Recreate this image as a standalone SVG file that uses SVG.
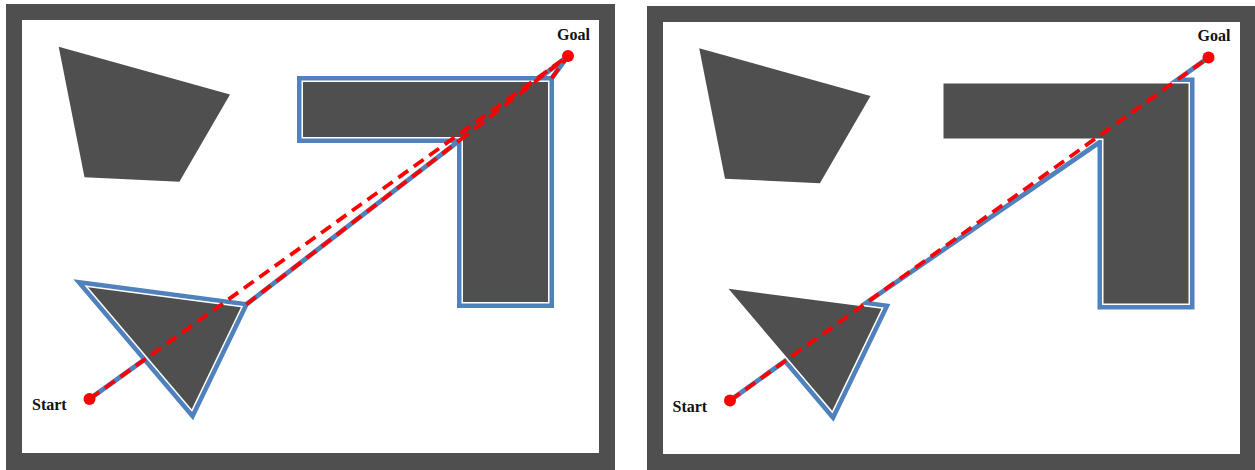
<svg xmlns="http://www.w3.org/2000/svg" width="1255" height="470" viewBox="0 0 1255 470">
<style>
.frame{fill:#4f4f4f}
.field{fill:#ffffff}
.obst{fill:#4f4f4f}
.obst-edge{fill:#4f4f4f;stroke:#ffffff;stroke-width:3;paint-order:stroke;stroke-linejoin:miter;stroke-miterlimit:10}
.obst-blue{fill:#4f4f4f;stroke:#4f81bd;stroke-width:12;stroke-linejoin:miter;stroke-miterlimit:10}
.blue{fill:none;stroke:#4f81bd;stroke-width:4.8;stroke-linejoin:miter;stroke-miterlimit:10}
.red{fill:none;stroke:#ff0000;stroke-width:3.8;stroke-dasharray:12 7}
.dot{fill:#ff0000}
.lbl{font-family:"Liberation Serif","Times New Roman",serif;font-weight:bold;font-size:16px;fill:#111111}
</style>

<!-- Left panel -->
<g id="left-panel">
  <rect class="frame" x="6" y="4" width="609" height="466"/>
  <rect class="field" x="22" y="20" width="577" height="433"/>
  <g id="left-blue-edges">
    <path class="blue" d="M89.5,399 L144.6,359.5"/>
    <path class="blue" d="M246.3,304.4 L459.4,140.6"/>
    <path class="blue" d="M459.4,140.6 L568,56"/>
    <path class="blue" d="M551.6,78.4 L568,56"/>
  </g>
  <g id="left-quad">
    <polygon class="obst" points="58.7,46.7 230,94.5 179.4,181.7 84.5,177.3"/>
  </g>
  <g id="left-triangle">
    <polygon class="obst-blue" points="88,287.3 240.9,307.3 191.7,409.3"/>
    <polygon class="obst-edge" points="88,287.3 240.9,307.3 191.7,409.3"/>
  </g>
  <g id="left-L">
    <path class="obst-blue" d="M303,82 H548 V302 H463 V137 H303 Z"/>
    <path class="obst-edge" d="M303,82 H548 V302 H463 V137 H303 Z"/>
  </g>
  <g id="left-connectors">
    <path class="red" d="M89.5,399 L568,56"/>
    <path class="red" d="M246.3,304.4 L459.4,140.6"/>
    <path class="red" d="M459.4,140.6 L568,56"/>
    <path class="red" d="M551.6,78.4 L568,56"/>
  </g>
  <g id="left-start">
    <circle class="dot" cx="89.5" cy="399" r="6"/>
    <text class="lbl" x="32" y="410">Start</text>
  </g>
  <g id="left-goal">
    <circle class="dot" cx="568" cy="56" r="6"/>
    <text class="lbl" x="557" y="39.5">Goal</text>
  </g>
</g>

<!-- Right panel -->
<g id="right-panel">
  <rect class="frame" x="647" y="6" width="608" height="464"/>
  <rect class="field" x="663" y="22" width="577" height="432"/>
  <g transform="translate(640.5,1.5)">
    <g id="right-connectors-blue">
      <path class="blue" d="M89.5,399 L144.6,359.5 L192.5,415.9 L246.3,304.4 L225.3,301.6 L459.4,140.6 L459.4,305.6 L551.6,305.6 L551.6,78.4 L536.8,78.4 L568,56"/>
    </g>
    <g id="right-quad">
      <polygon class="obst" points="58.7,46.7 230,94.5 179.4,181.7 84.5,177.3"/>
    </g>
    <g id="right-triangle">
      <polygon class="obst-edge" points="88,287.3 240.9,307.3 191.7,409.3"/>
    </g>
    <g id="right-L">
      <path class="obst-edge" d="M303,82 H548 V302 H463 V137 H303 Z"/>
    </g>
    <g id="right-connectors">
      <path class="red" d="M89.5,399 L568,56"/>
    </g>
    <g id="right-start">
      <circle class="dot" cx="89.5" cy="399" r="6"/>
      <text class="lbl" x="32" y="410">Start</text>
    </g>
    <g id="right-goal">
      <circle class="dot" cx="568" cy="56" r="6"/>
      <text class="lbl" x="557" y="39.5">Goal</text>
    </g>
  </g>
</g>
</svg>
